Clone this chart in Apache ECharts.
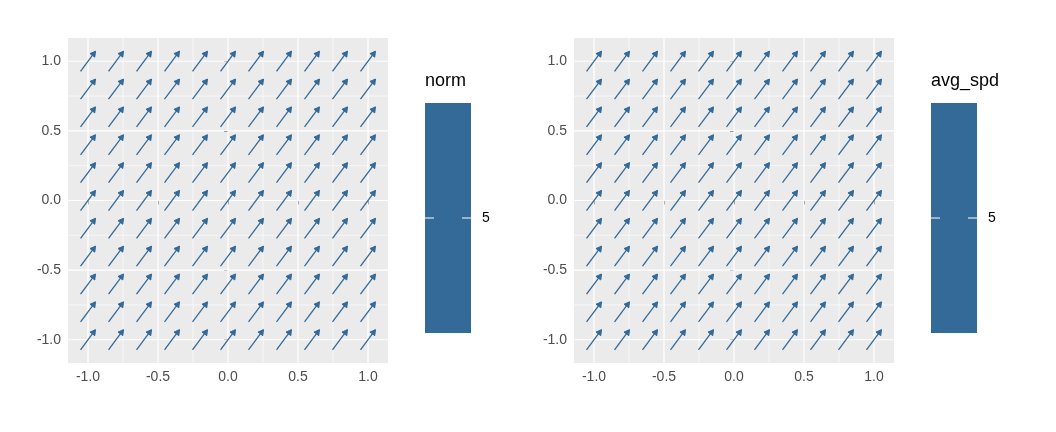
<!DOCTYPE html><html><head><meta charset="utf-8"><script src="https://cdn.jsdelivr.net/npm/echarts@6/dist/echarts.min.js"></script></head><body style="margin:0"><div id="c" style="width:1056px;height:432px"></div><script>
const xs=[-1,-0.8,-0.6,-0.4,-0.2,0,0.2,0.4,0.6,0.8,1];
const ys=[-1,-0.8,-0.6,-0.4,-0.2,0,0.2,0.4,0.6,0.8,1];
const arrowDx=0.107, arrowDy=0.144;
const majorTicks=[-1,-0.5,0,0.5,1];
const minorTicks=[-0.75,-0.25,0.25,0.75];
const tickLabels=['-1.0','-0.5','0.0','0.5','1.0'];
const legendTitles=['norm','avg_spd'];
const legendValue='5';
const col='#336a98';
const pts=[];xs.forEach(x=>ys.forEach(y=>pts.push([x,y])));
const lines=[];majorTicks.forEach(v=>{lines.push([v,0,1.2]);lines.push([v,1,1.2])});minorTicks.forEach(v=>{lines.push([v,0,0.6]);lines.push([v,1,0.6])});
const lefts=[68,574];
const grids=lefts.map(l=>({left:l,top:38,width:320,height:325,show:true,backgroundColor:'#ebebeb',borderWidth:0}));
const ax=(i,min,max)=>({gridIndex:i,type:'value',min,max,splitLine:{show:false},
 axisLine:{show:true,lineStyle:{opacity:0}},
 axisTick:{show:true,customValues:majorTicks,length:4,lineStyle:{color:'#333',width:1}},
 axisLabel:{show:true,margin:7,customValues:majorTicks,formatter:v=>tickLabels[majorTicks.indexOf(Math.round(v*100)/100)]??'',color:'#4d4d4d',fontSize:14,fontFamily:'Liberation Sans'}});
const series=[];
[0,1].forEach(i=>{
 series.push({type:'custom',xAxisIndex:i,yAxisIndex:i,data:lines,silent:true,renderItem:(p,api)=>{
  const v=api.value(0),d=api.value(1),w=api.value(2);const cs=p.coordSys;
  let sh;if(d==0){const x=api.coord([v,0])[0];sh={x1:x,y1:cs.y,x2:x,y2:cs.y+cs.height};}
  else{const y=api.coord([0,v])[1];sh={x1:cs.x,y1:y,x2:cs.x+cs.width,y2:y};}
  return {type:'line',shape:sh,style:{stroke:'#fff',lineWidth:w}};}});
 series.push({type:'custom',xAxisIndex:i,yAxisIndex:i,data:pts,renderItem:(p,api)=>{
  const x=api.value(0),y=api.value(1);
  const a=api.coord([x-arrowDx/2,y-arrowDy/2]),b=api.coord([x+arrowDx/2,y+arrowDy/2]);
  const ang=Math.atan2(b[1]-a[1],b[0]-a[0]),L=6,sp=Math.PI/6;
  const h1=[b[0]-L*Math.cos(ang-sp),b[1]-L*Math.sin(ang-sp)],h2=[b[0]-L*Math.cos(ang+sp),b[1]-L*Math.sin(ang+sp)];
  return {type:'group',children:[{type:'line',shape:{x1:a[0],y1:a[1],x2:b[0],y2:b[1]},style:{stroke:col,lineWidth:1.3}},
   {type:'polygon',shape:{points:[h1,b,h2]},style:{fill:col,stroke:col,lineWidth:1}}]};}});
});
const graphic=[];
[0,1].forEach(i=>{const bx=425+i*506;
 graphic.push({type:'text',left:bx,top:72,style:{text:legendTitles[i],fontSize:18,fill:'#000',fontFamily:'Liberation Sans'}});
 graphic.push({type:'rect',shape:{x:bx,y:103,width:46,height:230},style:{fill:col}});
 graphic.push({type:'line',shape:{x1:bx,y1:218,x2:bx+9,y2:218},style:{stroke:'#fff',lineWidth:1}});
 graphic.push({type:'line',shape:{x1:bx+37,y1:218,x2:bx+46,y2:218},style:{stroke:'#fff',lineWidth:1}});
 graphic.push({type:'text',left:bx+57,top:211,style:{text:legendValue,fontSize:14,fill:'#000',fontFamily:'Liberation Sans'}});
});
const c=echarts.init(document.getElementById('c'));
c.setOption({animation:false,backgroundColor:'#fff',grid:grids,
 xAxis:[ax(0,-1.143,1.143),ax(1,-1.143,1.143)],yAxis:[ax(0,-1.167,1.167),ax(1,-1.167,1.167)],series,graphic});
</script></body></html>
